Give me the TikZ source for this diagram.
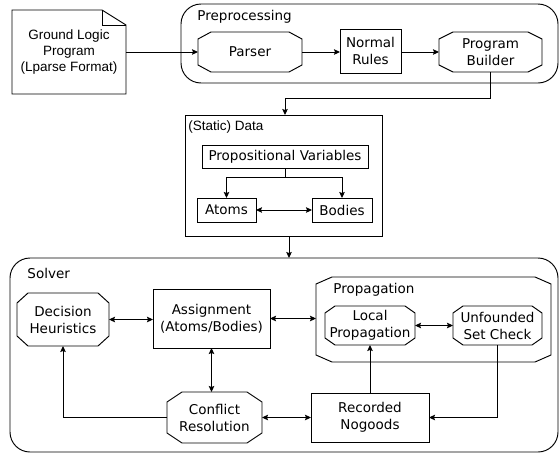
\documentclass[tikz,border=0pt]{standalone}
\usepackage{fontspec}
\setmainfont{DejaVu Sans}
\newfontfamily\arialf{Liberation Sans}
\usetikzlibrary{arrows.meta,calc}
\newcommand\octagon[3]{\draw ($(#1.north west)+(#2,0)$) -- ($(#1.north east)+(-#2,0)$) -- ($(#1.north east)+(0,#3)$) -- ($(#1.south east)+(0,-#3)$) -- ($(#1.south east)+(-#2,0)$) -- ($(#1.south west)+(#2,0)$) -- ($(#1.south west)+(0,-#3)$) -- ($(#1.north west)+(0,#3)$) -- cycle;}
\begin{document}
\begin{tikzpicture}[x=1pt,y=-1pt,line width=0.95pt,
  txt/.style={inner sep=0pt,outer sep=0pt,align=center,font=\fontsize{13.5}{17}\selectfont},
  box/.style={txt,draw,rectangle},
  plain/.style={txt,rectangle},
  lbl/.style={inner sep=0pt,anchor=west,font=\fontsize{13.5}{17}\selectfont},
  cont/.style={draw,rectangle,rounded corners=20pt,inner sep=0pt,outer sep=0pt},
  arr/.style={-{Stealth[length=6pt,width=5.5pt,inset=1pt]}},
  darr/.style={{Stealth[length=6pt,width=5.5pt,inset=1pt]}-{Stealth[length=6pt,width=5.5pt,inset=1pt]}}]
\useasboundingbox (0,0) rectangle (560,453);
% input document
\node[plain,minimum width=114,minimum height=84,font=\arialf\fontsize{13.5}{16}\selectfont] (gl) at (69,52) {Ground Logic\\Program\\(Lparse Format)};
\draw (gl.north west) -- ($(gl.north east)+(-24,0)$) -- ($(gl.north east)+(0,15)$) -- (gl.south east) -- (gl.south west) -- cycle;
\draw ($(gl.north east)+(-24,0)$) -- ($(gl.north east)+(-24,15)$) -- ($(gl.north east)+(0,15)$);
% preprocessing
\node[cont,minimum width=377,minimum height=79] (pre) at (369.5,43.5) {};
\node[lbl] (prelbl) at (197,17) {Preprocessing};
\node[plain,minimum width=104,minimum height=40] (parser) at (250,52) {Parser};
\octagon{parser}{13}{7}
\node[box,minimum width=61,minimum height=44] (normal) at (370.5,51) {Normal\\Rules};
\node[plain,minimum width=103,minimum height=40] (builder) at (490.5,52) {Program\\Builder};
\octagon{builder}{14}{7}
\draw[arr] (gl.east) -- (parser.west);
\draw[arr] (parser.east) -- (parser.east -| normal.west);
\draw[arr] (normal.east |- builder.west) -- (builder.west);
% data
\node[draw,rectangle,inner sep=0pt,outer sep=0pt,minimum width=197,minimum height=121] (data) at (283.5,175.5) {};
\node[lbl,font=\arialf\fontsize{13.5}{16}\selectfont] (datalbl) at (188,127) {(Static) Data};
\node[box,minimum width=166,minimum height=23] (pv) at (285,156.5) {Propositional Variables};
\node[box,minimum width=59,minimum height=24] (atoms) at (226.5,210) {Atoms};
\node[box,minimum width=60,minimum height=24] (bodies) at (342,210) {Bodies};
\coordinate (br) at ($(pv.south)+(0,9)$);
\draw (pv.south) -- (br);
\draw[arr] (br) -| (atoms.north);
\draw[arr] (br) -| (bodies.north);
\draw[darr] (atoms.east) -- (bodies.west);
\coordinate (bj) at (285,98);
\draw[arr] (builder.south) |- (bj) -- (bj |- data.north);
% solver
\node[cont,minimum width=548,minimum height=194] (solver) at (284,355) {};
\node[lbl] (solverlbl) at (27,273) {Solver};
\draw[arr] ([xshift=5.5pt]data.south) -- ([xshift=5.5pt]data.south |- solver.north);
\node[plain,minimum width=92,minimum height=53] (dh) at (63,319.5) {Decision\\Heuristics};
\octagon{dh}{11}{10}
\node[box,minimum width=117,minimum height=59] (asg) at (211.5,318.5) {Assignment\\(Atoms/Bodies)};
\node[plain,minimum width=235,minimum height=85] (prop) at (433.5,319.5) {};
\octagon{prop}{16}{7}
\node[lbl] (proplbl) at (333,290) {Propagation};
\node[plain,minimum width=90,minimum height=39] (lp) at (370,325.5) {Local\\Propagation};
\octagon{lp}{10}{7}
\node[plain,minimum width=89,minimum height=39] (usc) at (497.5,325.5) {Unfounded\\Set Check};
\octagon{usc}{10}{7}
\node[plain,minimum width=95,minimum height=51] (cr) at (214.5,417.5) {Conflict\\Resolution};
\octagon{cr}{15}{10}
\node[box,minimum width=118,minimum height=49] (rn) at (370,417.5) {Recorded\\Nogoods};
\draw[darr] (dh.east) -- (dh.east -| asg.west);
\draw[darr] (asg.east) -- (asg.east -| prop.west);
\draw[darr] (lp.east) -- (usc.west);
\draw[darr] (asg.south) -- (asg.south |- cr.north);
\draw[darr] (cr.east) -- (rn.west);
\draw[arr] (cr.west) -| (dh.south);
\draw[arr] (rn.north) -- (lp.south);
\draw[arr] (usc.south) |- (rn.east);
\end{tikzpicture}
\end{document}
